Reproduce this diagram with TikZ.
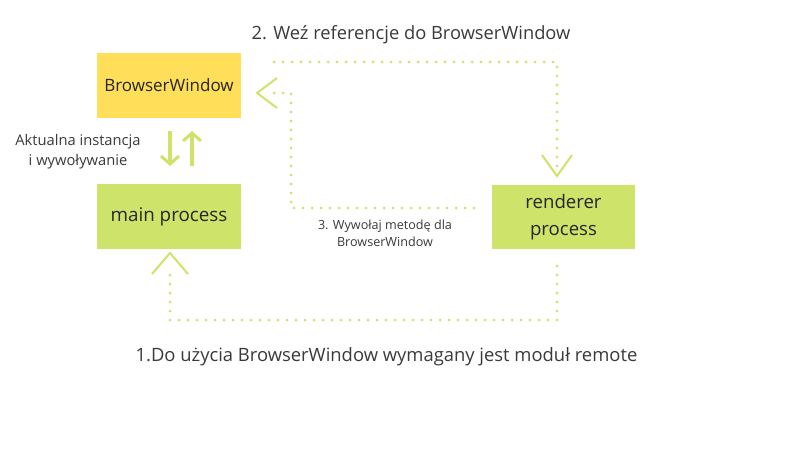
\documentclass[tikz,border=0pt]{standalone}
\usepackage{fontspec}
\setmainfont{Open Sans}
\usetikzlibrary{arrows.meta}
\definecolor{lime}{HTML}{CDE36A}
\definecolor{sun}{HTML}{FFDE59}
\definecolor{txt}{HTML}{3A3A3A}
\tikzset{
  box/.style={minimum width=144pt, minimum height=65pt, inner sep=0pt, align=center, text=black!85},
  dotline/.style={draw=lime, line width=3pt, line cap=round, dash pattern=on 0pt off 9pt},
  chev/.style={draw=lime, line width=2pt},
  solidarrow/.style={draw=lime, line width=3.5pt, -{Straight Barb[length=8pt,width=18pt,line width=3pt]}},
  lbl/.style={text=txt, align=center, inner sep=0pt}
}
\begin{document}
\begin{tikzpicture}[x=1pt,y=-1pt]
\useasboundingbox (0,0) rectangle (800,450);
\fill[white] (0,0) rectangle (800,450);
% boxes
\node[box, fill=sun, font=\fontsize{17}{20}\selectfont] (bw) at (169,85.5) {BrowserWindow};
\node[box, fill=lime, font=\fontsize{18.8}{22}\selectfont] (main) at (169,216.5) {main process};
\node[box, fill=lime, minimum width=143pt, minimum height=64pt, font=\fontsize{18.6}{27}\selectfont] (rend) at (563.5,217) {renderer\\process};
% solid arrows
\coordinate (d1) at (170,131);
\coordinate (d2) at (170,166);
\coordinate (u1) at (192,166);
\coordinate (u2) at (192,131);
\draw[solidarrow] (d1) -- (d2);
\draw[solidarrow] (u1) -- (u2);
\node[lbl, font=\fontsize{14.7}{20}\selectfont] (akt) at (78,152) {Aktualna instancja\\i wywoływanie};
% path 2
\coordinate (p2a) at (274,62);
\coordinate (p2b) at (557,62);
\coordinate (p2c) at (557,170);
\draw[dotline] (p2a) -- (p2b) -- (p2c);
\coordinate (c2t) at (557,176);
\draw[chev] (542,155) -- (c2t) -- (572,155);
% path 3
\coordinate (p3a) at (474,208);
\coordinate (p3b) at (291,208);
\coordinate (p3c) at (291,93);
\coordinate (p3d) at (274,93);
\draw[dotline] (p3a) -- (p3b) -- (p3c) -- (p3d);
\coordinate (c3t) at (257,93);
\draw[chev] (277,78) -- (c3t) -- (277,108);
% path 1
\coordinate (p1a) at (557,266);
\coordinate (p1b) at (557,320);
\coordinate (p1c) at (170,320);
\coordinate (p1d) at (170,270);
\draw[dotline] (p1a) -- (p1b) -- (p1c) -- (p1d);
\coordinate (c1t) at (170,253);
\draw[chev] (152,274) -- (c1t) -- (188,274);
% labels
\node[lbl, font=\fontsize{18.3}{22}\selectfont] (l2) at (411,35) {2. Weź referencje do BrowserWindow};
\node[lbl, font=\fontsize{12.6}{17}\selectfont] (l3) at (385,233) {3. Wywołaj metodę dla\\BrowserWindow};
\node[lbl, font=\fontsize{18.4}{22}\selectfont] (l1) at (386.5,357) {1.Do użycia BrowserWindow wymagany jest moduł remote};
\end{tikzpicture}
\end{document}
